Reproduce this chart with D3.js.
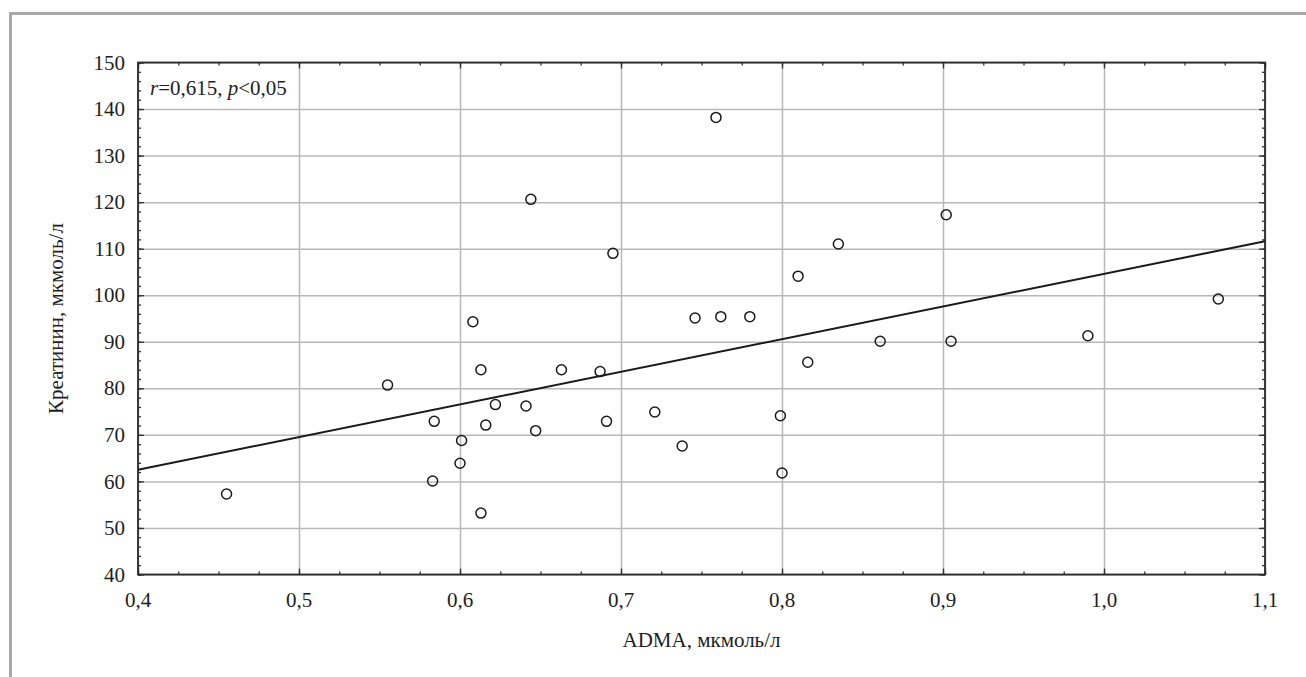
<!DOCTYPE html>
<html>
<head>
<meta charset="utf-8">
<script src="https://cdn.jsdelivr.net/npm/d3@7"></script>
<style>
  body { margin: 0; background: #fff; }
  svg { display: block; }
  text { font-family: "Liberation Serif", "Times New Roman", serif; fill: #1e1e1e; }
</style>
</head>
<body>
<div id="chart"></div>
<script>
// Set up conventions
let width = 1306;
let height = 677;
let margin = ({top: 62.5, right: 41, bottom: 102.5, left: 138});

// ADMA (x) and creatinine (y)
let adma = [0.455, 0.555, 0.583, 0.584, 0.600, 0.601, 0.608, 0.613, 0.613, 0.616,
            0.622, 0.641, 0.644, 0.647, 0.663, 0.687, 0.691, 0.695, 0.721, 0.738,
            0.746, 0.759, 0.762, 0.780, 0.799, 0.800, 0.810, 0.816, 0.835, 0.861,
            0.902, 0.905, 0.990, 1.071];
let creat = [57.3, 80.7, 60.1, 72.9, 63.9, 68.8, 94.3, 84.0, 53.2, 72.1,
             76.5, 76.2, 120.6, 70.9, 84.0, 83.6, 72.9, 109.0, 74.9, 67.6,
             95.1, 138.2, 95.4, 95.4, 74.1, 61.8, 104.1, 85.6, 111.0, 90.1,
             117.3, 90.1, 91.3, 99.2];

// regression line end points
let fitX = [0.4, 1.1];
let fitY = [62.5, 111.6];

let xTicks = [0.4, 0.5, 0.6, 0.7, 0.8, 0.9, 1.0, 1.1];
let yTicks = [40, 50, 60, 70, 80, 90, 100, 110, 120, 130, 140, 150];

let xLabel = "ADMA, мкмоль/л";
let yLabel = "Креатинин, мкмоль/л";

let locale = d3.formatLocale({decimal: ",", thousands: " ", grouping: [3], currency: ["", ""]});
let fmtX = locale.format(".1f");

let svg = d3.select("#chart")
    .append("svg")
    .attr("width", width)
    .attr("height", height)

// outer frame (left and top edges only visible)
svg.append("path")
    .attr("d", "M10.5," + height + "V13.5H" + width)
    .attr("fill", "none")
    .attr("stroke", "#a8a8a8")
    .attr("stroke-width", 3)

let xScale = d3.scaleLinear()
    .domain([0.4, 1.1])
    .range([margin.left, width - margin.right])

let yScale = d3.scaleLinear()
    .domain([40, 150])
    .range([height - margin.bottom, margin.top])

let plotW = width - margin.right - margin.left;
let plotH = height - margin.bottom - margin.top;

// grid lines
svg.append("g")
    .attr("class", "xgrid")
    .attr("transform", "translate(0," + (height - margin.bottom) + ")")
    .call(d3.axisBottom(xScale).tickValues(xTicks).tickSize(-plotH).tickFormat(""))
    .call(g => g.select(".domain").remove())
    .selectAll("line")
    .attr("stroke", "#b8b8b8")
    .attr("stroke-width", 1.5)

svg.append("g")
    .attr("class", "ygrid")
    .attr("transform", "translate(" + margin.left + ",0)")
    .call(d3.axisLeft(yScale).tickValues(yTicks).tickSize(-plotW).tickFormat(""))
    .call(g => g.select(".domain").remove())
    .selectAll("line")
    .attr("stroke", "#b8b8b8")
    .attr("stroke-width", 1.5)

// minor tick values
let xMinor = d3.range(0.4, 1.1001, 0.025);
let yMinor = d3.range(40, 150.001, 2);

function styleAxis(g) {
    g.select(".domain").remove();
    g.selectAll("line").attr("stroke", "#333").attr("stroke-width", 1.3);
}

// ticks on all four sides, pointing inward
let bottomY = height - margin.bottom;
let rightX = width - margin.right;

svg.append("g").attr("transform", "translate(0," + bottomY + ")")
    .call(d3.axisBottom(xScale).tickValues(xMinor).tickSize(-3).tickFormat("")).call(styleAxis)
svg.append("g").attr("transform", "translate(0," + bottomY + ")")
    .call(d3.axisBottom(xScale).tickValues(xTicks).tickSize(-6).tickFormat("")).call(styleAxis)
svg.append("g").attr("transform", "translate(0," + margin.top + ")")
    .call(d3.axisTop(xScale).tickValues(xMinor).tickSize(-3).tickFormat("")).call(styleAxis)
svg.append("g").attr("transform", "translate(0," + margin.top + ")")
    .call(d3.axisTop(xScale).tickValues(xTicks).tickSize(-6).tickFormat("")).call(styleAxis)
svg.append("g").attr("transform", "translate(" + margin.left + ",0)")
    .call(d3.axisLeft(yScale).tickValues(yMinor).tickSize(-3).tickFormat("")).call(styleAxis)
svg.append("g").attr("transform", "translate(" + margin.left + ",0)")
    .call(d3.axisLeft(yScale).tickValues(yTicks).tickSize(-6).tickFormat("")).call(styleAxis)
svg.append("g").attr("transform", "translate(" + rightX + ",0)")
    .call(d3.axisRight(yScale).tickValues(yMinor).tickSize(-3).tickFormat("")).call(styleAxis)
svg.append("g").attr("transform", "translate(" + rightX + ",0)")
    .call(d3.axisRight(yScale).tickValues(yTicks).tickSize(-6).tickFormat("")).call(styleAxis)

// plot border
svg.append("rect")
    .attr("x", margin.left)
    .attr("y", margin.top)
    .attr("width", plotW)
    .attr("height", plotH)
    .attr("fill", "none")
    .attr("stroke", "#2a2a2a")
    .attr("stroke-width", 1.8)

// tick labels
svg.append("g")
    .selectAll("text")
    .data(xTicks)
    .enter()
    .append("text")
    .attr("x", d => xScale(d))
    .attr("y", bottomY + 32)
    .attr("text-anchor", "middle")
    .attr("font-size", 21)
    .text(d => fmtX(d))

svg.append("g")
    .selectAll("text")
    .data(yTicks)
    .enter()
    .append("text")
    .attr("x", margin.left - 13)
    .attr("y", d => yScale(d))
    .attr("dy", "0.34em")
    .attr("text-anchor", "end")
    .attr("font-size", 21)
    .text(d => d)

// axis titles
svg.append("text")
    .attr("x", margin.left + plotW / 2)
    .attr("y", 647)
    .attr("text-anchor", "middle")
    .attr("font-size", 21)
    .text(xLabel)

svg.append("text")
    .attr("transform", "translate(63," + (margin.top + plotH / 2) + ") rotate(-90)")
    .attr("text-anchor", "middle")
    .attr("font-size", 21)
    .text(yLabel)

// regression line
let line = d3.line()
    .x(d => xScale(d[0]))
    .y(d => yScale(d[1]))

svg.append("path")
    .datum(d3.zip(fitX, fitY))
    .attr("d", line)
    .attr("fill", "none")
    .attr("stroke", "#1a1a1a")
    .attr("stroke-width", 2)

// points
svg.append("g")
    .selectAll("circle")
    .data(d3.zip(adma, creat))
    .enter()
    .append("circle")
    .attr("cx", d => xScale(d[0]))
    .attr("cy", d => yScale(d[1]))
    .attr("r", 5)
    .attr("fill", "none")
    .attr("stroke", "#1a1a1a")
    .attr("stroke-width", 1.5)

// annotation
let note = svg.append("text")
    .attr("x", margin.left + 12)
    .attr("y", 95)
    .attr("font-size", 21)
note.append("tspan").attr("font-style", "italic").text("r")
note.append("tspan").text("=0,615, ")
note.append("tspan").attr("font-style", "italic").text("p")
note.append("tspan").text("<0,05")
</script>
</body>
</html>
